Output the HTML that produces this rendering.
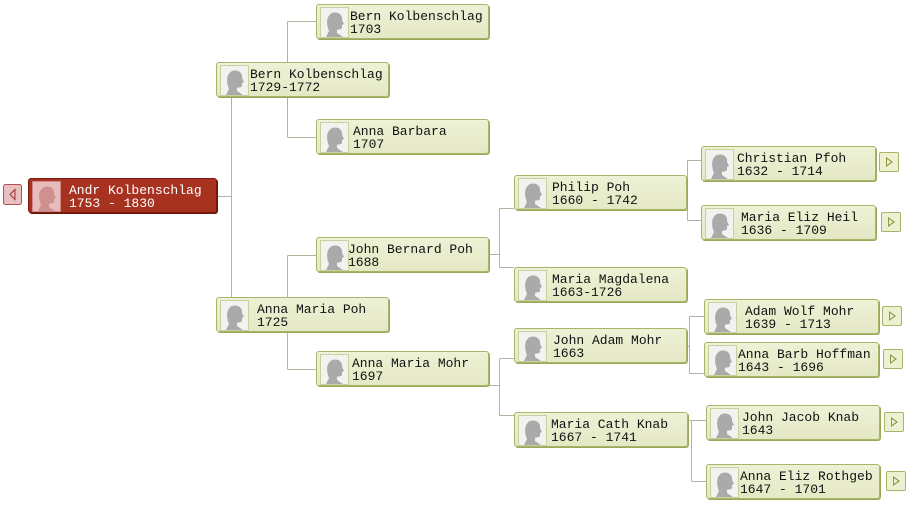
<!DOCTYPE html>
<html><head><meta charset="utf-8"><style>
body{margin:0;width:909px;height:505px;background:#fff;position:relative;overflow:hidden;font-family:"Liberation Mono",monospace;}
.b{position:absolute;height:33px;background:linear-gradient(#eef2d6,#e4e8c4);border:1px solid #a9b46a;border-radius:3px;box-shadow:1px 1px 0 #9aa85a;box-sizing:content-box;}
.p{position:absolute;left:3px;top:2px;width:27px;height:29px;background:#f2f2ef;border:1px solid #c8cfa0;overflow:hidden}
.p svg{position:absolute;left:3px;top:3px}
.t{position:absolute;top:5px;font-size:13px;line-height:13px;color:#111;white-space:pre}
.r{background:#a83220;border-color:#7c1a10;box-shadow:1px 1px 0 #6a140c}
.r .t{color:#fff}
.r .p{background:#e8bcbc;border-color:#c88}
.btn{position:absolute;width:18px;height:18px;border:1px solid #a9b46a;background:#eef0d2;border-radius:2px}
.btn:before{content:"";position:absolute;left:6px;top:4px;width:0;height:0;border-left:7px solid #8a9640;border-top:5px solid transparent;border-bottom:5px solid transparent}
.btn i{position:absolute;left:7px;top:6px;border-left:4px solid #eef0d2;border-top:3px solid transparent;border-bottom:3px solid transparent}
</style></head><body>
<svg width="909" height="505" style="position:absolute;left:0;top:0" stroke="#b8b0a0" stroke-width="1" fill="none">
<path d="M216.5 196.5H231.5M231.5 97V297"/>
<path d="M287.5 21.5V137.5M287.5 21.5H316M287.5 137.5H316M287.5 97V62"/>
<path d="M287.5 255.5V369.5M287.5 255.5H316M287.5 369.5H316M287.5 332V297"/>
<path d="M488 254.5H499.5M499.5 208.5V267.5M499.5 208.5H514M499.5 267.5H514"/>
<path d="M488 385.5H499.5M499.5 358.5V415.5M499.5 358.5H514M499.5 415.5H514"/>
<path d="M686 191.5H687.5M687.5 160.5V220.5M687.5 160.5H701M687.5 220.5H701"/>
<path d="M688 346.5H689.5M689.5 316.5V373.5M689.5 316.5H704M689.5 373.5H704"/>
<path d="M688 420.5H691.5M691.5 420.5V481.5M691.5 420.5H706M691.5 481.5H706"/>
</svg>
<svg width="20" height="22" style="position:absolute;left:3px;top:184px"><rect x="0.5" y="0.5" width="18" height="20" rx="2" fill="#e8c0c0" stroke="#b05050"/><path d="M12 5.5L7 10.5L12 15.5Z" fill="#e8c0c0" stroke="#a03030"/></svg>

<div class="b r" style="left:28px;top:178px;width:187px"><div class="p"><svg width="22" height="26"><path d="M8 2c6-2 11 2 10 7l2 4-2 1 0 3c-1 2-4 1-5 2l0 3 6 4H2l3-6c-2-5-4-14 3-18z" fill="#d09090"/></svg></div><div class="t" style="left:40px;color:#fff">Andr Kolbenschlag
1753 - 1830</div></div>

<div class="b" style="left:216px;top:62px;width:171px"><div class="p"><svg width="22" height="26"><path d="M8 2c6-2 11 2 10 7l2 4-2 1 0 3c-1 2-4 1-5 2l0 3 6 4H2l3-6c-2-5-4-14 3-18z" fill="#aaa"/></svg></div><div class="t" style="left:33px">Bern Kolbenschlag
1729-1772</div></div>
<div class="b" style="left:316px;top:4px;width:171px"><div class="p"><svg width="22" height="26"><path d="M8 2c6-2 11 2 10 7l2 4-2 1 0 3c-1 2-4 1-5 2l0 3 6 4H2l3-6c-2-5-4-14 3-18z" fill="#aaa"/></svg></div><div class="t" style="left:33px">Bern Kolbenschlag
1703</div></div>
<div class="b" style="left:316px;top:119px;width:171px"><div class="p"><svg width="22" height="26"><path d="M8 2c6-2 11 2 10 7l2 4-2 1 0 3c-1 2-4 1-5 2l0 3 6 4H2l3-6c-2-5-4-14 3-18z" fill="#aaa"/></svg></div><div class="t" style="left:36px">Anna Barbara
1707</div></div>
<div class="b" style="left:216px;top:297px;width:171px"><div class="p"><svg width="22" height="26"><path d="M8 2c6-2 11 2 10 7l2 4-2 1 0 3c-1 2-4 1-5 2l0 3 6 4H2l3-6c-2-5-4-14 3-18z" fill="#aaa"/></svg></div><div class="t" style="left:40px">Anna Maria Poh
1725</div></div>
<div class="b" style="left:316px;top:237px;width:171px"><div class="p"><svg width="22" height="26"><path d="M8 2c6-2 11 2 10 7l2 4-2 1 0 3c-1 2-4 1-5 2l0 3 6 4H2l3-6c-2-5-4-14 3-18z" fill="#aaa"/></svg></div><div class="t" style="left:31px">John Bernard Poh
1688</div></div>
<div class="b" style="left:316px;top:351px;width:171px"><div class="p"><svg width="22" height="26"><path d="M8 2c6-2 11 2 10 7l2 4-2 1 0 3c-1 2-4 1-5 2l0 3 6 4H2l3-6c-2-5-4-14 3-18z" fill="#aaa"/></svg></div><div class="t" style="left:35px">Anna Maria Mohr
1697</div></div>
<div class="b" style="left:514px;top:175px;width:171px"><div class="p"><svg width="22" height="26"><path d="M8 2c6-2 11 2 10 7l2 4-2 1 0 3c-1 2-4 1-5 2l0 3 6 4H2l3-6c-2-5-4-14 3-18z" fill="#aaa"/></svg></div><div class="t" style="left:37px">Philip Poh
1660 - 1742</div></div>
<div class="b" style="left:514px;top:267px;width:171px"><div class="p"><svg width="22" height="26"><path d="M8 2c6-2 11 2 10 7l2 4-2 1 0 3c-1 2-4 1-5 2l0 3 6 4H2l3-6c-2-5-4-14 3-18z" fill="#aaa"/></svg></div><div class="t" style="left:37px">Maria Magdalena
1663-1726</div></div>
<div class="b" style="left:514px;top:328px;width:171px"><div class="p"><svg width="22" height="26"><path d="M8 2c6-2 11 2 10 7l2 4-2 1 0 3c-1 2-4 1-5 2l0 3 6 4H2l3-6c-2-5-4-14 3-18z" fill="#aaa"/></svg></div><div class="t" style="left:38px">John Adam Mohr
1663</div></div>
<div class="b" style="left:514px;top:412px;width:172px"><div class="p"><svg width="22" height="26"><path d="M8 2c6-2 11 2 10 7l2 4-2 1 0 3c-1 2-4 1-5 2l0 3 6 4H2l3-6c-2-5-4-14 3-18z" fill="#aaa"/></svg></div><div class="t" style="left:36px">Maria Cath Knab
1667 - 1741</div></div>
<div class="b" style="left:701px;top:146px;width:173px"><div class="p"><svg width="22" height="26"><path d="M8 2c6-2 11 2 10 7l2 4-2 1 0 3c-1 2-4 1-5 2l0 3 6 4H2l3-6c-2-5-4-14 3-18z" fill="#aaa"/></svg></div><div class="t" style="left:35px">Christian Pfoh
1632 - 1714</div></div>
<div class="b" style="left:701px;top:205px;width:173px"><div class="p"><svg width="22" height="26"><path d="M8 2c6-2 11 2 10 7l2 4-2 1 0 3c-1 2-4 1-5 2l0 3 6 4H2l3-6c-2-5-4-14 3-18z" fill="#aaa"/></svg></div><div class="t" style="left:39px">Maria Eliz Heil
1636 - 1709</div></div>
<div class="b" style="left:704px;top:299px;width:173px"><div class="p"><svg width="22" height="26"><path d="M8 2c6-2 11 2 10 7l2 4-2 1 0 3c-1 2-4 1-5 2l0 3 6 4H2l3-6c-2-5-4-14 3-18z" fill="#aaa"/></svg></div><div class="t" style="left:40px">Adam Wolf Mohr
1639 - 1713</div></div>
<div class="b" style="left:704px;top:342px;width:173px"><div class="p"><svg width="22" height="26"><path d="M8 2c6-2 11 2 10 7l2 4-2 1 0 3c-1 2-4 1-5 2l0 3 6 4H2l3-6c-2-5-4-14 3-18z" fill="#aaa"/></svg></div><div class="t" style="left:33px">Anna Barb Hoffman
1643 - 1696</div></div>
<div class="b" style="left:706px;top:405px;width:172px"><div class="p"><svg width="22" height="26"><path d="M8 2c6-2 11 2 10 7l2 4-2 1 0 3c-1 2-4 1-5 2l0 3 6 4H2l3-6c-2-5-4-14 3-18z" fill="#aaa"/></svg></div><div class="t" style="left:35px">John Jacob Knab
1643</div></div>
<div class="b" style="left:706px;top:464px;width:172px"><div class="p"><svg width="22" height="26"><path d="M8 2c6-2 11 2 10 7l2 4-2 1 0 3c-1 2-4 1-5 2l0 3 6 4H2l3-6c-2-5-4-14 3-18z" fill="#aaa"/></svg></div><div class="t" style="left:33px">Anna Eliz Rothgeb
1647 - 1701</div></div>

<div class="btn" style="left:879px;top:152px"><i></i></div>
<div class="btn" style="left:881px;top:212px"><i></i></div>
<div class="btn" style="left:882px;top:306px"><i></i></div>
<div class="btn" style="left:883px;top:349px"><i></i></div>
<div class="btn" style="left:884px;top:412px"><i></i></div>
<div class="btn" style="left:886px;top:471px"><i></i></div>
</body></html>
